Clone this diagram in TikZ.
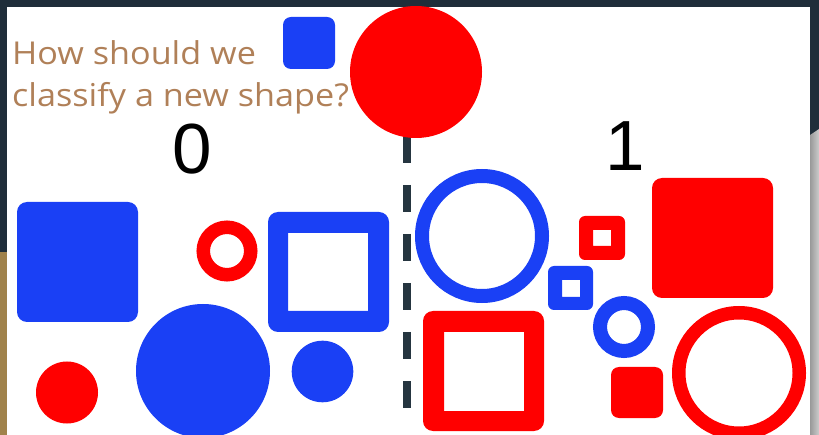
\documentclass[tikz,border=0pt]{standalone}
\usepackage{fontspec}
\setmainfont{Liberation Sans}
\newfontfamily\qfont[FakeStretch=1.085]{Open Sans}
\definecolor{shblue}{RGB}{26,64,245}
\definecolor{shred}{RGB}{255,0,0}
\definecolor{navybg}{RGB}{31,46,58}
\definecolor{tanbg}{RGB}{160,130,75}
\definecolor{qtext}{RGB}{176,128,88}
\definecolor{dashc}{RGB}{37,53,64}
\tikzset{
  qlabel/.style={anchor=base west, inner sep=0pt, text=qtext, font=\qfont\fontsize{31.5}{38}\selectfont},
  digit/.style={anchor=base, inner sep=0pt, text=black, font=\fontsize{71}{71}\selectfont},
  bluefill/.style={fill=shblue},
  redfill/.style={fill=shred},
  divider/.style={draw=dashc, line width=8pt, dash pattern=on 27pt off 22pt},
}
\begin{document}
\begin{tikzpicture}[x=1pt,y=-1pt]
\useasboundingbox (0,0) rectangle (819,435);
% background
\fill[navybg] (0,0) rectangle (819,435);
\fill[tanbg] (0,252) rectangle (7,435);
\shade[left color=black!40, right color=black!20] (810,135) -- (819,129) -- (819,435) -- (810,435) -- cycle;
\fill[white] (7,7) rectangle (810,435);
\begin{scope}
\clip (7,7) rectangle (810,435);
% divider
\coordinate (dtop) at (407,136);
\coordinate (dbot) at (407,420);
\draw[divider] (dtop) -- (dbot);
% new shapes at top
\fill[bluefill, rounded corners=8pt] (283,17) rectangle (335,69);
\fill[redfill] (416,72) circle[radius=66pt];
% class 0 side
\fill[bluefill, rounded corners=10pt] (17,202) rectangle (138,322);
\draw[shred, line width=13.5pt] (227,251) circle[radius=23.75pt];
\fill[bluefill, even odd rule, rounded corners=10pt] (268,212) rectangle (389,332) [sharp corners] (288,233) rectangle (368,311);
\fill[bluefill] (203,371) circle[radius=67pt];
\fill[bluefill] (322.5,371.5) circle[radius=30.8pt];
\fill[redfill] (67,392.5) circle[radius=31pt];
% class 1 side
\draw[shblue, line width=14pt] (482,236) circle[radius=60pt];
\fill[redfill, even odd rule, rounded corners=6pt] (579,216) rectangle (625,260) [sharp corners] (593,230) rectangle (611,246);
\fill[redfill, rounded corners=10pt] (652,178) rectangle (773,298);
\fill[bluefill, even odd rule, rounded corners=6pt] (548,266) rectangle (593,310) [sharp corners] (562,280) rectangle (580,297);
\draw[shblue, line width=14pt] (624,327) circle[radius=24pt];
\fill[redfill, even odd rule, rounded corners=10pt] (423,311) rectangle (544,431) [sharp corners] (444,332) rectangle (524,411);
\fill[redfill, rounded corners=8pt] (611,367) rectangle (663,418);
\draw[shred, line width=13.5pt] (739,373) circle[radius=60.25pt];
\end{scope}
% texts
\node[qlabel] (q1) at (12,65) {How should we};
\node[qlabel] (q2) at (12,107) {classify a new shape?};
\node[digit] (zero) at (192,174) {0};
\node[digit] (one) at (625,171) {1};
\end{tikzpicture}
\end{document}
